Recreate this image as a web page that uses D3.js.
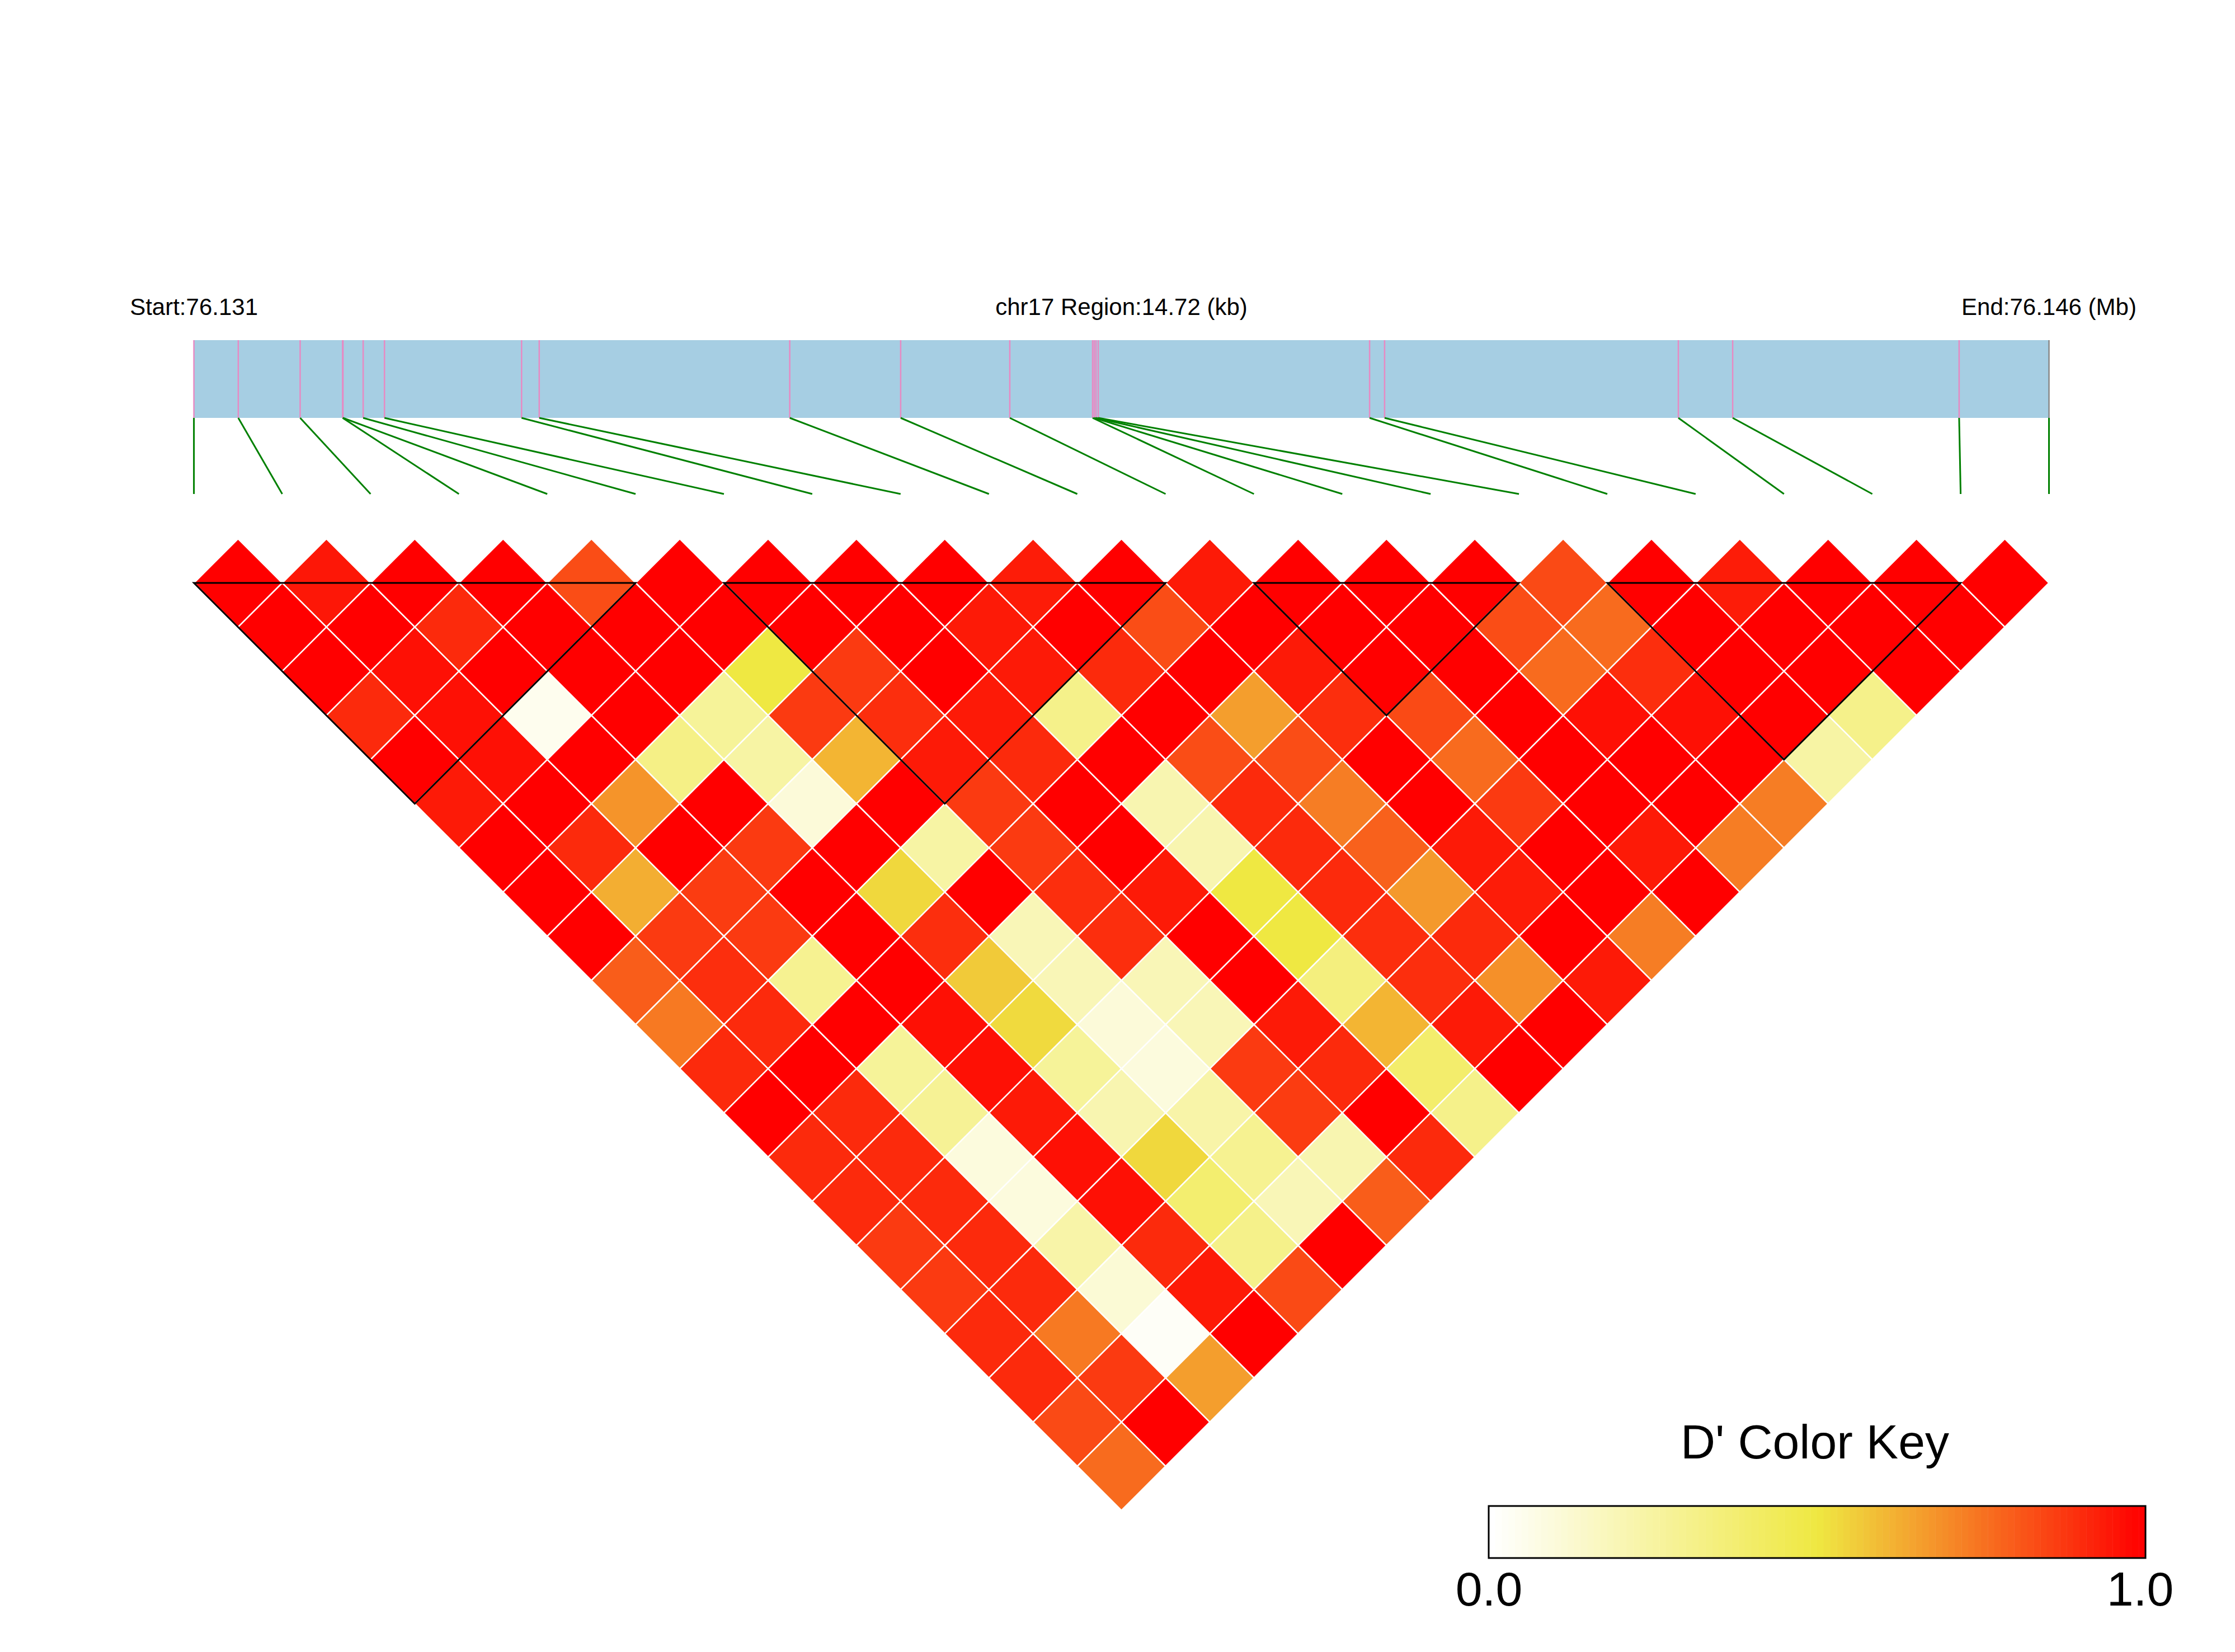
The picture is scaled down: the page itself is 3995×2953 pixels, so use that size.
<!DOCTYPE html>
<html>
<head>
<meta charset="utf-8">
<script src="https://cdn.jsdelivr.net/npm/d3@7"></script>
<style>
  body { margin: 0; background: #fff; }
</style>
</head>
<body>
<div id="chart"></div>
<script>
// SNP positions on chr17 (bp)
var snpPos = [76131160, 76131512, 76132003, 76132340, 76132343, 76132503, 76132672,
              76133760, 76133900, 76135888, 76136768, 76137634, 76138291, 76138304,
              76138318, 76138336, 76140489, 76140608, 76142939, 76143370, 76145167,
              76145880];

// D' values, one row per SNP distance (row 0 = neighbouring SNPs)
var dPrime = [
  [1.0, 0.95, 1.0, 1.0, 0.835, 1.0, 1.0, 1.0, 1.0, 0.94, 1.0, 0.945, 1.0, 1.0, 1.0, 0.84, 1.0, 0.94, 1.0, 1.0, 1.0],
  [1.0, 1.0, 0.91, 1.0, 1.0, 1.0, 1.0, 1.0, 0.945, 1.0, 0.835, 1.0, 1.0, 1.0, 0.835, 0.77, 1.0, 1.0, 1.0, 1.0],
  [1.0, 0.965, 1.0, 1.0, 1.0, 0.5, 0.875, 1.0, 0.945, 0.91, 1.0, 0.945, 1.0, 1.0, 0.77, 0.9, 1.0, 1.0, 1.0],
  [0.91, 0.965, 0.045, 1.0, 0.27, 0.875, 0.9, 0.945, 0.31, 1.0, 0.66, 0.9, 0.84, 1.0, 0.965, 0.965, 1.0, 0.31],
  [1.0, 0.965, 1.0, 0.32, 0.24, 0.61, 0.945, 0.91, 1.0, 0.835, 0.835, 1.0, 0.77, 1.0, 1.0, 1.0, 0.24],
  [0.945, 1.0, 0.68, 1.0, 0.10, 1.0, 0.875, 1.0, 0.21, 0.91, 0.73, 1.0, 0.875, 1.0, 1.0, 0.73],
  [1.0, 0.91, 1.0, 0.875, 1.0, 0.24, 0.875, 1.0, 0.21, 0.91, 0.79, 0.945, 1.0, 0.945, 0.73],
  [1.0, 0.625, 0.87, 1.0, 0.535, 1.0, 0.9, 0.945, 0.5, 0.91, 0.67, 0.94, 1.0, 1.0],
  [1.0, 0.875, 0.875, 1.0, 0.9, 0.19, 0.9, 1.0, 0.5, 0.9, 0.91, 1.0, 0.73],
  [0.80, 0.9, 0.29, 1.0, 0.565, 0.19, 0.19, 1.0, 0.34, 0.9, 0.69, 0.945],
  [0.74, 0.91, 1.0, 0.965, 0.53, 0.10, 0.19, 0.945, 0.61, 0.945, 1.0],
  [0.91, 1.0, 0.27, 0.965, 0.27, 0.09, 0.875, 0.91, 0.39, 1.0],
  [1.0, 0.91, 0.28, 0.945, 0.21, 0.23, 0.87, 1.0, 0.31],
  [0.91, 0.91, 0.09, 0.965, 0.535, 0.29, 0.21, 0.91],
  [0.91, 0.91, 0.09, 0.965, 0.38, 0.19, 0.80],
  [0.875, 0.91, 0.23, 0.91, 0.31, 1.0],
  [0.875, 0.91, 0.11, 0.945, 0.84],
  [0.91, 0.74, 0.02, 1.0],
  [0.91, 0.875, 0.66],
  [0.84, 1.0],
  [0.77]
];

// haplotype blocks: first and last SNP index
var blocks = [[0, 5], [6, 11], [12, 15], [16, 20]];

var keyTicks = [0, 1];
var keyColors = ["#ffffff", "#efe842", "#ff0000"];

function init() {
    var w = 3995;
    var h = 2953;
    var left = 346.6, right = 3662.5;
    var barTop = 608, barBottom = 747, lineBottom = 883;
    var yTop = 1042;
    var font = "'Liberation Sans', Arial, sans-serif";
    var n = snpPos.length;

    var xScale = d3.scaleLinear()
                .domain([0, n - 1])
                .range([left, right]);

    var posScale = d3.scaleLinear()
                .domain([snpPos[0], snpPos[n - 1]])
                .range([left, right]);

    var colorScale = d3.scaleLinear()
                .domain([0, 0.5, 1])
                .range(keyColors);

    var half = (xScale(1) - xScale(0)) / 2;

    var svg = d3.select("#chart")
                .append("svg")
                .attr("width", w)
                .attr("height", h);

    svg.append("rect")
        .attr("width", w)
        .attr("height", h)
        .attr("fill", "#fff");

    // header texts
    var startMb = (snpPos[0] / 1e6).toFixed(3);
    var endMb = (snpPos[n - 1] / 1e6).toFixed(3);
    var regionKb = ((snpPos[n - 1] - snpPos[0]) / 1000).toFixed(2);
    var header = [
        {x: left, t: "Start:" + startMb},
        {x: (left + right) / 2, t: "chr17 Region:" + regionKb + " (kb)"},
        {x: right, t: "End:" + endMb + " (Mb)"}
    ];
    svg.selectAll("text.header")
        .data(header)
        .enter()
        .append("text")
        .attr("class", "header")
        .attr("x", function(d) { return d.x; })
        .attr("y", 563)
        .attr("text-anchor", "middle")
        .style("font-family", font)
        .style("font-size", "42px")
        .text(function(d) { return d.t; });

    // gene region bar
    svg.append("rect")
        .attr("x", left)
        .attr("y", barTop)
        .attr("width", right - left)
        .attr("height", barBottom - barTop)
        .attr("fill", "#a6cee3");

    svg.selectAll("line.snp")
        .data(snpPos)
        .enter()
        .append("line")
        .attr("class", "snp")
        .attr("x1", function(d) { return posScale(d); })
        .attr("x2", function(d) { return posScale(d); })
        .attr("y1", barTop)
        .attr("y2", barBottom)
        .attr("stroke", function(d, i) { return i == n - 1 ? "#888888" : "#e78ac3"; })
        .attr("stroke-width", 2.5);

    svg.selectAll("line.link")
        .data(snpPos)
        .enter()
        .append("line")
        .attr("class", "link")
        .attr("x1", function(d) { return posScale(d); })
        .attr("y1", barBottom)
        .attr("x2", function(d, i) { return xScale(i); })
        .attr("y2", lineBottom)
        .attr("stroke", "#008000")
        .attr("stroke-width", 3);

    // LD cells
    var cells = [];
    dPrime.forEach(function(row, k) {
        row.forEach(function(v, i) {
            cells.push({i: i, j: i + k + 1, v: v});
        });
    });

    svg.selectAll("path.cell")
        .data(cells)
        .enter()
        .append("path")
        .attr("class", "cell")
        .attr("d", function(d) {
            var cx = (xScale(d.i) + xScale(d.j)) / 2;
            var cy = yTop + (d.j - d.i - 1) * half;
            return "M" + cx + "," + (cy - half) +
                   "L" + (cx + half) + "," + cy +
                   "L" + cx + "," + (cy + half) +
                   "L" + (cx - half) + "," + cy + "Z";
        })
        .attr("fill", function(d) { return colorScale(d.v); })
        .attr("stroke", "#fff")
        .attr("stroke-width", 2.5);

    // block outlines
    svg.selectAll("path.block")
        .data(blocks)
        .enter()
        .append("path")
        .attr("class", "block")
        .attr("d", function(d) {
            var x0 = xScale(d[0]), x1 = xScale(d[1]);
            return "M" + x0 + "," + yTop + "L" + x1 + "," + yTop +
                   "L" + ((x0 + x1) / 2) + "," + (yTop + (x1 - x0) / 2) + "Z";
        })
        .attr("fill", "none")
        .attr("stroke", "#000")
        .attr("stroke-width", 3);

    // colour key
    var keyLeft = 2661, keyRight = 3835, keyTop = 2692, keyBottom = 2785;
    var keyScale = d3.scaleLinear()
                .domain([0, 1])
                .range([keyLeft, keyRight]);
    var steps = d3.range(100);
    var stepW = (keyRight - keyLeft) / steps.length;

    svg.append("text")
        .attr("x", (keyLeft + keyRight) / 2 - 4)
        .attr("y", 2607)
        .attr("text-anchor", "middle")
        .style("font-family", font)
        .style("font-size", "86px")
        .text("D' Color Key");

    svg.selectAll("rect.key")
        .data(steps)
        .enter()
        .append("rect")
        .attr("class", "key")
        .attr("x", function(d) { return keyScale(d / steps.length); })
        .attr("y", keyTop)
        .attr("width", stepW + 0.5)
        .attr("height", keyBottom - keyTop)
        .attr("fill", function(d) { return colorScale(d / (steps.length - 1)); });

    svg.append("rect")
        .attr("x", keyLeft)
        .attr("y", keyTop)
        .attr("width", keyRight - keyLeft)
        .attr("height", keyBottom - keyTop)
        .attr("fill", "none")
        .attr("stroke", "#000")
        .attr("stroke-width", 3);

    var keyAxis = d3.axisBottom()
                .scale(keyScale)
                .tickValues(keyTicks)
                .tickSize(0)
                .tickPadding(24)
                .tickFormat(d3.format(".1f"));

    var gAxis = svg.append("g")
        .attr("transform", "translate(0," + keyBottom + ")")
        .call(keyAxis);
    gAxis.select(".domain").remove();
    gAxis.selectAll("text")
        .style("font-family", font)
        .style("font-size", "86px")
        .attr("fill", "#000")
        .attr("dx", function(d) { return d == 1 ? -10 : 0; });
}

window.onload = init;
</script>
</body>
</html>
